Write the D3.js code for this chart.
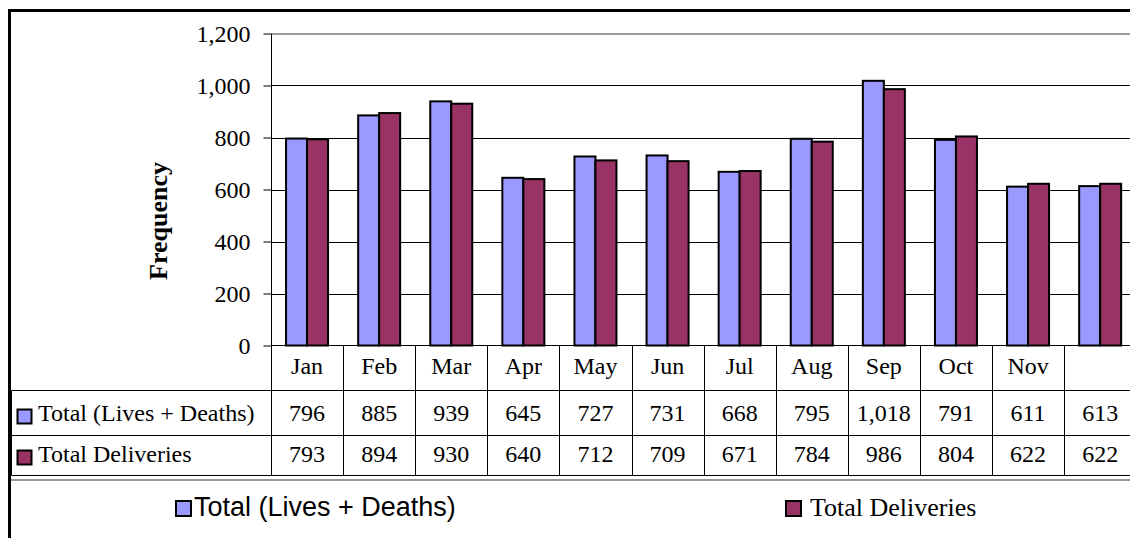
<!DOCTYPE html>
<html>
<head>
<meta charset="utf-8">
<script src="https://cdn.jsdelivr.net/npm/d3@7"></script>
<style>
  body { margin: 0; background: #fff; }
  svg { display: block; }
  .serif { font-family: "Liberation Serif", "Times New Roman", serif; }
  .sans { font-family: "Liberation Sans", Arial, sans-serif; }
</style>
</head>
<body>
<div class="chart"></div>
<script>
const width = 1130,
      height = 538;

// data
const months = ["Jan", "Feb", "Mar", "Apr", "May", "Jun", "Jul", "Aug", "Sep", "Oct", "Nov", ""];
const seriesNames = ["Total (Lives + Deaths)", "Total Deliveries"];
const livesDeaths = [796, 885, 939, 645, 727, 731, 668, 795, 1018, 791, 611, 613];
const deliveries = [793, 894, 930, 640, 712, 709, 671, 784, 986, 804, 622, 622];
const yTicks = [0, 200, 400, 600, 800, 1000, 1200];
const colors = ["#9999ff", "#993366"];

const series = [livesDeaths, deliveries];

const svg = d3.select(".chart")
              .append("svg")
              .attr("width", width)
              .attr("height", height);

const x0 = 271, bandW = 72.1;
const x = d3.scaleBand()
            .domain(months)
            .range([x0, x0 + bandW * months.length])
            .paddingInner(0).paddingOuter(0);
const xs = d3.scaleBand()
             .domain(seriesNames)
             .range([0, x.bandwidth()])
             .paddingInner(0).paddingOuter(0.717);
const y = d3.scaleLinear()
            .domain([0, 1200])
            .range([345.5, 33.5]);

const fmt = d3.format(",");
const rowY = [390.5, 435.5, 475.5];

// outer border
svg.append("rect")
   .attr("x", 9.5).attr("y", 10.5)
   .attr("width", 1200).attr("height", 600)
   .attr("fill", "none").attr("stroke", "#000").attr("stroke-width", 3);

// grid lines
var grid = svg.append("g").classed("grid", true);
grid.selectAll("line")
    .data(yTicks.filter(d => d > 0 && d < 1200))
    .enter().append("line")
    .attr("x1", x0).attr("x2", width)
    .attr("y1", d => Math.round(y(d)) + 0.5)
    .attr("y2", d => Math.round(y(d)) + 0.5)
    .attr("stroke", "#000").attr("stroke-width", 1);
grid.append("line")
    .attr("x1", x0).attr("x2", width)
    .attr("y1", 34).attr("y2", 34)
    .attr("stroke", "#999").attr("stroke-width", 2);

// bars
var groups = svg.append("g").classed("bars", true)
   .selectAll("g")
   .data(months.map((m, i) => ({ m: m, i: i })))
   .enter().append("g")
   .attr("transform", d => "translate(" + x(d.m) + ",0)");
groups.selectAll("rect")
   .data(d => seriesNames.map((s, k) => ({ s: s, k: k, v: series[k][d.i] })))
   .enter().append("rect")
   .attr("x", d => xs(d.s))
   .attr("width", xs.bandwidth())
   .attr("y", d => y(d.v))
   .attr("height", d => y(0) - y(d.v))
   .attr("fill", d => colors[d.k])
   .attr("stroke", "#000").attr("stroke-width", 2);

// y axis
var yAxis = svg.append("g")
   .attr("transform", "translate(" + (x0 + 0.5) + ",0)")
   .call(d3.axisLeft(y).tickValues(yTicks).tickFormat(fmt).tickSize(8).tickPadding(13));
yAxis.select(".domain").remove();
yAxis.selectAll(".tick line").attr("stroke", "#000");
yAxis.selectAll("text")
   .attr("class", "serif")
   .attr("font-size", 24).attr("fill", "#000");

// axis line continuing down into the table
svg.append("line")
   .attr("x1", x0 + 0.5).attr("x2", x0 + 0.5)
   .attr("y1", 34).attr("y2", rowY[2])
   .attr("stroke", "#000");
// zero line
svg.append("line")
   .attr("x1", x0).attr("x2", width)
   .attr("y1", 345.5).attr("y2", 345.5)
   .attr("stroke", "#000");

svg.append("text")
   .attr("class", "serif")
   .attr("transform", "translate(167,221) rotate(-90)")
   .attr("text-anchor", "middle")
   .attr("font-size", 26).attr("font-weight", "bold")
   .text("Frequency");

// data table
var table = svg.append("g").classed("table", true);
table.selectAll("line.col")
   .data(months.map((m, i) => x0 + bandW * (i + 1)))
   .enter().append("line")
   .attr("x1", d => Math.round(d) + 0.5).attr("x2", d => Math.round(d) + 0.5)
   .attr("y1", 345.5).attr("y2", rowY[2])
   .attr("stroke", "#000");
table.selectAll("line.row")
   .data(rowY)
   .enter().append("line")
   .attr("x1", 11.5).attr("x2", width)
   .attr("y1", d => d).attr("y2", d => d)
   .attr("stroke", "#000");
table.append("line")
   .attr("x1", 11.5).attr("x2", 11.5)
   .attr("y1", rowY[0]).attr("y2", rowY[2])
   .attr("stroke", "#000");
table.append("line")
   .attr("x1", 11).attr("x2", width)
   .attr("y1", 480).attr("y2", 480)
   .attr("stroke", "#999").attr("stroke-width", 2);

table.selectAll("text.month")
   .data(months)
   .enter().append("text")
   .attr("class", "serif")
   .attr("x", d => x(d) + x.bandwidth() / 2)
   .attr("y", 374)
   .attr("text-anchor", "middle")
   .attr("font-size", 24)
   .text(d => d);

const valY = [421, 462];
seriesNames.forEach(function(s, k) {
    table.append("rect")
       .attr("x", 17.5).attr("y", valY[k] - 11.5)
       .attr("width", 14).attr("height", 14)
       .attr("fill", colors[k]).attr("stroke", "#000").attr("stroke-width", 2);
    table.append("text")
       .attr("class", "serif")
       .attr("x", 38).attr("y", valY[k])
       .attr("font-size", 24)
       .text(s);
    table.selectAll("text.v" + k)
       .data(series[k])
       .enter().append("text")
       .attr("class", "serif")
       .attr("x", (d, i) => x(months[i]) + x.bandwidth() / 2)
       .attr("y", valY[k])
       .attr("text-anchor", "middle")
       .attr("font-size", 24)
       .text(d => fmt(d));
});

// legend
var legend = svg.append("g").classed("legend", true);
legend.append("rect")
   .attr("x", 176).attr("y", 501)
   .attr("width", 15).attr("height", 15)
   .attr("fill", colors[0]).attr("stroke", "#000").attr("stroke-width", 2);
legend.append("text")
   .attr("class", "sans")
   .attr("x", 194).attr("y", 516)
   .attr("font-size", 27)
   .text(seriesNames[0]);
legend.append("rect")
   .attr("x", 786).attr("y", 501)
   .attr("width", 15).attr("height", 15)
   .attr("fill", colors[1]).attr("stroke", "#000").attr("stroke-width", 2);
legend.append("text")
   .attr("class", "serif")
   .attr("x", 810).attr("y", 516)
   .attr("font-size", 26)
   .text(seriesNames[1]);
</script>
</body>
</html>
